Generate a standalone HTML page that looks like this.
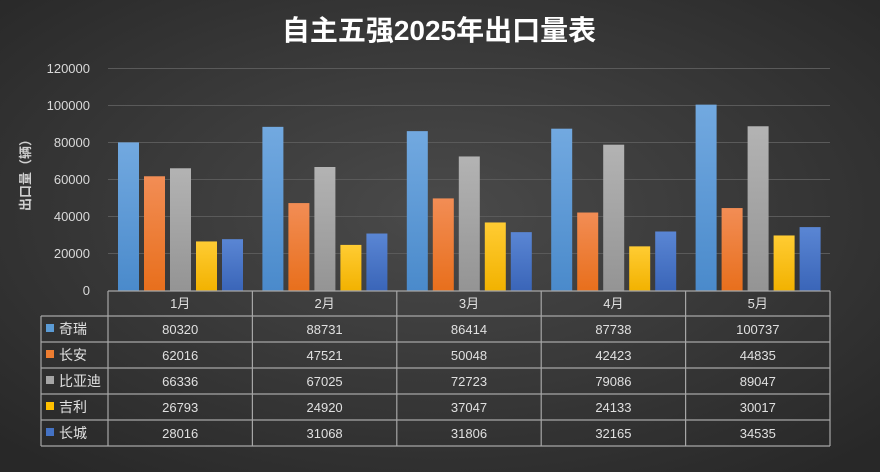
<!DOCTYPE html>
<html><head><meta charset="utf-8"><style>
html,body{margin:0;padding:0;width:880px;height:472px;overflow:hidden;background:#333}
svg{display:block}
text{font-family:"Liberation Sans","Noto Sans CJK SC",sans-serif}
</style></head><body>
<svg width="880" height="472" viewBox="0 0 880 472">
<defs>
<radialGradient id="bg" cx="50%" cy="45%" r="70%">
<stop offset="0" stop-color="#4a4a4a"/><stop offset="1" stop-color="#282828"/>
</radialGradient>
<linearGradient id="g0" x1="0" y1="0" x2="0" y2="1"><stop offset="0" stop-color="#72a9e0"/><stop offset="1" stop-color="#4a8acb"/></linearGradient>
<linearGradient id="g1" x1="0" y1="0" x2="0" y2="1"><stop offset="0" stop-color="#f28d55"/><stop offset="1" stop-color="#e86f1c"/></linearGradient>
<linearGradient id="g2" x1="0" y1="0" x2="0" y2="1"><stop offset="0" stop-color="#b3b3b3"/><stop offset="1" stop-color="#949494"/></linearGradient>
<linearGradient id="g3" x1="0" y1="0" x2="0" y2="1"><stop offset="0" stop-color="#ffcc33"/><stop offset="1" stop-color="#f2b200"/></linearGradient>
<linearGradient id="g4" x1="0" y1="0" x2="0" y2="1"><stop offset="0" stop-color="#5a86d4"/><stop offset="1" stop-color="#3a65b8"/></linearGradient>
</defs>
<rect width="880" height="472" fill="url(#bg)"/>
<text x="439" y="40" fill="#fff" font-size="28" font-weight="bold" text-anchor="middle">自主五强2025年出口量表</text>
<g stroke="#5a5a5a" stroke-width="1">
<line x1="108" x2="830" y1="68.5" y2="68.5"/><line x1="108" x2="830" y1="105.5" y2="105.5"/>
<line x1="108" x2="830" y1="142.5" y2="142.5"/><line x1="108" x2="830" y1="179.5" y2="179.5"/>
<line x1="108" x2="830" y1="216.5" y2="216.5"/><line x1="108" x2="830" y1="253.5" y2="253.5"/>
</g>
<g fill="#d9d9d9" font-size="13" text-anchor="end">
<text x="90" y="73">120000</text><text x="90" y="110">100000</text><text x="90" y="147">80000</text>
<text x="90" y="184">60000</text><text x="90" y="221">40000</text><text x="90" y="258">20000</text><text x="90" y="295">0</text>
</g>
<text transform="translate(30,172) rotate(-90)" fill="#d0d0d0" font-size="13" font-weight="bold" text-anchor="middle">出口量（辆）</text>
<g id="bars"></g>
<g stroke="#a6a6a6" stroke-width="1.2" fill="none">
<line x1="108" x2="830" y1="291" y2="291"/>
<line x1="41" x2="830" y1="316" y2="316"/>
<line x1="41" x2="830" y1="342" y2="342"/>
<line x1="41" x2="830" y1="368" y2="368"/>
<line x1="41" x2="830" y1="394" y2="394"/>
<line x1="41" x2="830" y1="420" y2="420"/>
<line x1="41" x2="830" y1="446" y2="446"/>
<line x1="41" x2="41" y1="316" y2="446"/>
<line x1="108" x2="108" y1="291" y2="446"/>
<line x1="252.4" x2="252.4" y1="291" y2="446"/>
<line x1="396.8" x2="396.8" y1="291" y2="446"/>
<line x1="541.2" x2="541.2" y1="291" y2="446"/>
<line x1="685.6" x2="685.6" y1="291" y2="446"/>
<line x1="830" x2="830" y1="291" y2="446"/>
</g>
<g id="tbl" fill="#e0e0e0" font-size="13"></g>
</svg>
<script>
var d=[[80320,88731,86414,87738,100737],[62016,47521,50048,42423,44835],[66336,67025,72723,79086,89047],[26793,24920,37047,24133,30017],[28016,31068,31806,32165,34535]];
var names=["奇瑞","长安","比亚迪","吉利","长城"];
var cols=["#5b9bd5","#ed7d31","#a5a5a5","#ffc000","#4472c4"];
var ns="http://www.w3.org/2000/svg",b=document.getElementById("bars"),t=document.getElementById("tbl");
function el(p,n,a,tx){var e=document.createElementNS(ns,n);for(var k in a)e.setAttribute(k,a[k]);if(tx)e.textContent=tx;p.appendChild(e);return e;}
for(var c=0;c<5;c++){var x0=108+c*144.4;
 el(t,"text",{x:x0+72.2,y:308,"text-anchor":"middle"},(c+1)+"月");
 for(var s=0;s<5;s++){var h=d[s][c]/20000*37;
  el(b,"rect",{x:x0+10+s*26,y:291-h,width:21,height:h,fill:"url(#g"+s+")"});
  el(t,"text",{x:x0+72.2,y:334+s*26,"text-anchor":"middle"},String(d[s][c]));}}
for(var s=0;s<5;s++){el(t,"rect",{x:46,y:324+s*26,width:8,height:8,fill:cols[s]});
 el(t,"text",{x:59,y:334+s*26,"font-size":"14"},names[s]);}
</script>
</body></html>
